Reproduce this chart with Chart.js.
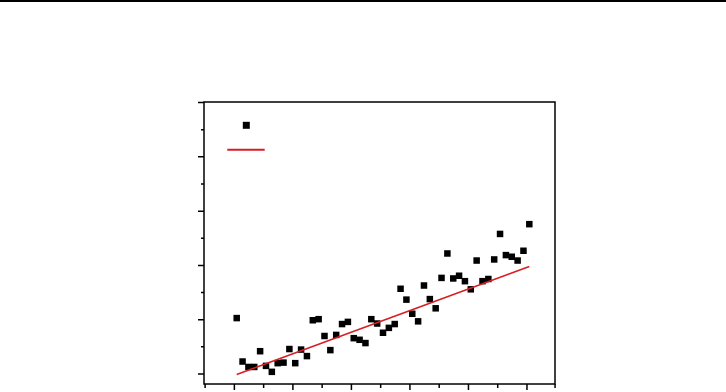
<!DOCTYPE html>
<html>
<head>
<meta charset="utf-8">
<script src="https://cdn.jsdelivr.net/npm/chart.js@4/dist/chart.umd.min.js"></script>
<style>
  html, body { margin: 0; padding: 0; background: #fff; }
  #wrap { width: 726px; height: 392px; position: relative; }
</style>
</head>
<body>
<div id="wrap"><canvas id="scatter-chart" width="726" height="392"></canvas></div>
<script>
// sample index along the x axis
var xValues = [0,1,2,3,4,5,6,7,8,9,10,11,12,13,14,15,16,17,18,19,20,21,22,23,24,25,
               26,27,28,29,30,31,32,33,34,35,36,37,38,39,40,41,42,43,44,45,46,47,48,49,50];
var yValues = [1.03,0.23,0.13,0.13,0.42,0.15,0.04,0.20,0.21,0.46,0.20,0.45,0.33,0.99,1.01,0.70,0.44,0.72,0.92,0.96,
               0.66,0.63,0.57,1.01,0.93,0.76,0.85,0.92,1.57,1.37,1.11,0.97,1.63,1.38,1.21,1.77,2.22,1.76,1.81,1.71,
               1.56,2.09,1.71,1.75,2.11,2.58,2.19,2.16,2.09,2.27,2.76];
// linear fit, end points
var fitX = [0, 50];
var fitY = [-0.01, 1.98];
// tick marks (no labels shown)
var xMajorTicks = [-0.4, 9.6, 19.6, 29.6, 39.6, 49.6];
var xMinorTicks = [-5.4, 4.6, 14.6, 24.6, 34.6, 44.6, 54.4];
var yMajorTicks = [0, 1, 2, 3, 4, 5];
var yMinorTicks = [0.5, 1.5, 2.5, 3.5, 4.5];

var points = xValues.map(function(x, i){ return {x: x, y: yValues[i]} });
var fitLine = fitX.map(function(x, i){ return {x: x, y: fitY[i]} });

var frameAndTicks = {
    id: 'frameAndTicks',
    afterDraw: function(chart) {
        var ctx = chart.ctx, a = chart.chartArea;
        var xs = chart.scales.x, ys = chart.scales.y;
        ctx.save();
        // rule at the top of the page
        ctx.fillStyle = '#000';
        ctx.fillRect(0, 0, chart.width, 2);
        // frame
        ctx.strokeStyle = '#000';
        ctx.lineWidth = 1.5;
        ctx.strokeRect(a.left, a.top, a.right - a.left, a.bottom - a.top);
        ctx.beginPath();
        xMajorTicks.forEach(function(v){
            var px = xs.getPixelForValue(v);
            ctx.moveTo(px, a.bottom); ctx.lineTo(px, a.bottom + 6);
        });
        xMinorTicks.forEach(function(v){
            var px = xs.getPixelForValue(v);
            ctx.moveTo(px, a.bottom); ctx.lineTo(px, a.bottom + 4);
        });
        yMajorTicks.forEach(function(v){
            var py = ys.getPixelForValue(v);
            ctx.moveTo(a.left, py); ctx.lineTo(a.left - 6, py);
        });
        yMinorTicks.forEach(function(v){
            var py = ys.getPixelForValue(v);
            ctx.moveTo(a.left, py); ctx.lineTo(a.left - 3, py);
        });
        ctx.stroke();
        // legend symbols (labels are empty in the original)
        ctx.fillStyle = '#000';
        ctx.fillRect(a.left + 38.8, a.top + 19.8, 7, 7);
        ctx.strokeStyle = 'rgb(215,30,35)';
        ctx.lineWidth = 2;
        ctx.beginPath();
        ctx.moveTo(a.left + 23.3, a.top + 47.7);
        ctx.lineTo(a.left + 60.7, a.top + 47.7);
        ctx.stroke();
        ctx.restore();
    }
};

var chartCtx = document.getElementById("scatter-chart").getContext("2d");
var scatterChart = new Chart(chartCtx, {
    type: "scatter",
    data: {
        datasets: [
            {
                type: 'line',
                label: 'Fit',
                data: fitLine,
                borderColor: 'rgb(215,30,35)',
                borderWidth: 1.6,
                pointRadius: 0,
                fill: false,
                order: 0
            },
            {
                label: 'Data',
                data: points,
                pointStyle: 'rect',
                pointRadius: 4.6,
                backgroundColor: '#000',
                borderWidth: 0,
                order: 1
            }
        ]
    },
    options: {
        responsive: false,
        animation: false,
        layout: { padding: { left: 204, right: 171, top: 102, bottom: 8 } },
        plugins: {
            legend: { display: false },
            tooltip: { enabled: false }
        },
        scales: {
            x: { type: 'linear', display: false, min: -5.59, max: 54.39 },
            y: { type: 'linear', display: false, min: -0.184, max: 5.01 }
        }
    },
    plugins: [frameAndTicks]
});
</script>
</body>
</html>
